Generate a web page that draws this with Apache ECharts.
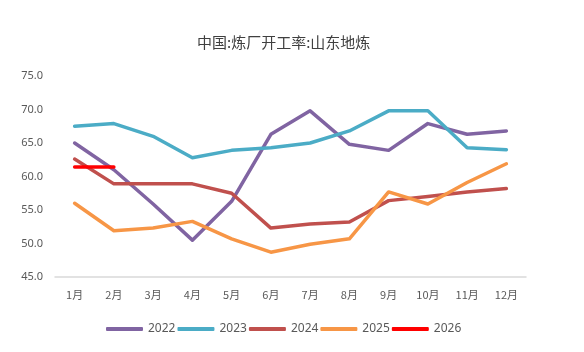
<!DOCTYPE html>
<html>
<head>
<meta charset="utf-8">
<script src="https://cdn.jsdelivr.net/npm/echarts@6/dist/echarts.min.js"></script>
<style>
  html, body { margin: 0; padding: 0; background: #fff; }
  #chart { width: 584px; height: 352px; }
</style>
</head>
<body>
<div id="chart"></div>
<script>
// 月份类目
const months = ['1月', '2月', '3月', '4月', '5月', '6月', '7月', '8月', '9月', '10月', '11月', '12月'];

// 各年度开工率 (%)
const y2022 = [65.0, 61.0, 55.9, 50.5, 56.3, 66.3, 69.8, 64.8, 63.9, 67.9, 66.3, 66.8];
const y2023 = [67.5, 67.9, 66.0, 62.8, 63.9, 64.3, 65.0, 66.8, 69.8, 69.8, 64.3, 64.0];
const y2024 = [62.6, 58.9, 58.9, 58.9, 57.5, 52.3, 52.9, 53.2, 56.4, 57.0, 57.7, 58.2];
const y2025 = [56.0, 51.9, 52.3, 53.3, 50.7, 48.7, 49.9, 50.7, 57.7, 55.9, 59.1, 61.9];
const y2026 = [61.4, 61.4];

const FONT = '"Noto Sans", "Noto Sans CJK SC", sans-serif';

function line(name, data, color) {
  return {
    name: name,
    type: 'line',
    data: data,
    showSymbol: false,
    symbol: 'none',
    lineStyle: { color: color, width: 3.5, cap: 'round', join: 'round' },
    itemStyle: { color: color },
    emphasis: { disabled: true },
  };
}

const chart = echarts.init(document.getElementById('chart'), null, { renderer: 'canvas' });

chart.setOption({
  backgroundColor: '#fff',
  animation: false,
  title: {
    text: '中国:炼厂开工率:山东地炼',
    left: 192,
    top: 30,
    textStyle: { color: '#404040', fontSize: 15, fontWeight: 'normal', fontFamily: '"Noto Sans CJK SC", sans-serif' },
  },
  grid: { left: 55, right: 58, top: 76, bottom: 75, containLabel: false },
  legend: {
    top: 318,
    left: 101,
    itemWidth: 37,
    itemHeight: 4,
    itemGap: 2,
    icon: 'roundRect',
    textStyle: { color: '#595959', fontSize: 12, fontFamily: FONT },
    data: ['2022', '2023', '2024', '2025', '2026'],
  },
  xAxis: {
    type: 'category',
    data: months,
    boundaryGap: true,
    axisLine: { lineStyle: { color: '#d9d9d9', width: 1.5 } },
    axisTick: { show: false },
    axisLabel: { color: '#595959', fontSize: 11, margin: 12, fontFamily: '"Noto Sans CJK SC", sans-serif' },
    splitLine: { show: false },
  },
  yAxis: {
    type: 'value',
    min: 45,
    max: 75,
    interval: 5,
    axisLine: { show: false },
    axisTick: { show: false },
    axisLabel: {
      color: '#595959', fontSize: 11, margin: 12, fontFamily: FONT,
      formatter: v => v.toFixed(1),
    },
    splitLine: { show: false },
  },
  series: [
    line('2022', y2022, '#8064a2'),
    line('2023', y2023, '#4bacc6'),
    line('2024', y2024, '#c0504d'),
    line('2025', y2025, '#f79646'),
    line('2026', y2026, '#ff0000'),
  ],
});
</script>
</body>
</html>
